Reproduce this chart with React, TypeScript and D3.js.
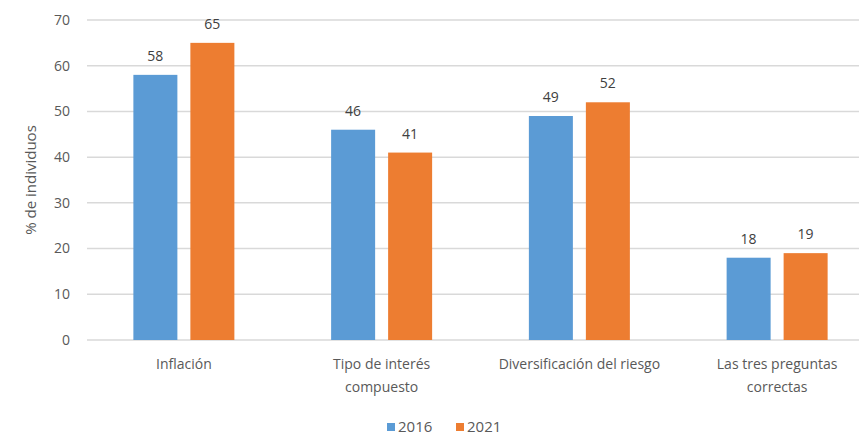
import React, { useEffect, useRef } from 'react';
import * as d3 from 'd3';

const categories = [
  ['Inflación'],
  ['Tipo de interés', 'compuesto'],
  ['Diversificación del riesgo'],
  ['Las tres preguntas', 'correctas'],
];
const seriesNames = ['2016', '2021'];
const values2016 = [58, 46, 49, 18];
const values2021 = [65, 41, 52, 19];
const yTicks = [0, 10, 20, 30, 40, 50, 60, 70];
const colors = ['#5B9BD5', '#ED7D31'];

const App = () => {
  const svgRef = useRef<SVGSVGElement>(null);

  useEffect(() => {
    const W = 859;
    const H = 437;
    const svg = d3.select(svgRef.current).attr('width', W).attr('height', H);
    svg.selectAll('*').remove();

    const font = 'Open Sans, sans-serif';
    const textColor = '#595959';

    const x0 = d3.scaleBand<number>()
      .domain(d3.range(categories.length))
      .range([85, 876])
      .padding(0);
    const groupW = 101;
    const x1 = d3.scaleBand<number>()
      .domain([0, 1])
      .range([0, groupW])
      .paddingInner(0.228);
    const y = d3.scaleLinear().domain([0, 70]).range([340, 20]);

    // gridlines
    svg.append('g')
      .selectAll('line')
      .data(yTicks)
      .join('line')
      .attr('x1', 87)
      .attr('x2', W)
      .attr('y1', d => y(d))
      .attr('y2', d => y(d))
      .attr('stroke', '#D9D9D9')
      .attr('stroke-width', 1.5);

    // y tick labels
    svg.append('g')
      .selectAll('text')
      .data(yTicks)
      .join('text')
      .attr('x', 70)
      .attr('y', d => y(d))
      .attr('dy', '0.35em')
      .attr('text-anchor', 'end')
      .attr('font-family', font)
      .attr('font-size', 14)
      .attr('fill', textColor)
      .text(d => d);

    // y title
    svg.append('text')
      .attr('transform', `translate(36,${y(35)}) rotate(-90)`)
      .attr('text-anchor', 'middle')
      .attr('font-family', font)
      .attr('font-size', 15)
      .attr('fill', textColor)
      .text('% de individuos');

    const barX = (i: number, s: number) => x0(i)! + (x0.bandwidth() - groupW) / 2 + x1(s)!;

    const series = [values2016, values2021];
    series.forEach((vals, s) => {
      const g = svg.append('g');
      g.selectAll('rect')
        .data(vals)
        .join('rect')
        .attr('x', (d, i) => barX(i, s))
        .attr('y', d => y(d))
        .attr('width', x1.bandwidth())
        .attr('height', d => y(0) - y(d))
        .attr('fill', colors[s]);
      g.selectAll('text')
        .data(vals)
        .join('text')
        .attr('x', (d, i) => barX(i, s) + x1.bandwidth() / 2)
        .attr('y', d => y(d) - 14)
        .attr('text-anchor', 'middle')
        .attr('font-family', font)
        .attr('font-size', 14)
        .attr('fill', '#404040')
        .text(d => d);
    });

    // category labels
    const cat = svg.append('g')
      .selectAll('text')
      .data(categories)
      .join('text')
      .attr('x', (d, i) => x0(i)! + x0.bandwidth() / 2)
      .attr('y', 369)
      .attr('text-anchor', 'middle')
      .attr('font-family', font)
      .attr('font-size', 14)
      .attr('fill', textColor);
    cat.selectAll('tspan')
      .data(d => d)
      .join('tspan')
      .attr('x', function () {
        return (this as SVGTSpanElement).parentElement!.getAttribute('x');
      })
      .attr('dy', (d, i) => (i === 0 ? 0 : 23))
      .text(d => d);

    // legend
    const legendX = [387, 456];
    const legend = svg.append('g')
      .selectAll('g')
      .data(seriesNames)
      .join('g')
      .attr('transform', (d, i) => `translate(${legendX[i]},423)`);
    legend.append('rect')
      .attr('width', 8)
      .attr('height', 8)
      .attr('fill', (d, i) => colors[i]);
    legend.append('text')
      .attr('x', 11)
      .attr('y', 9)
      .attr('font-family', font)
      .attr('font-size', 15)
      .attr('fill', textColor)
      .text(d => d);
  }, []);

  return (
    <div style={{ position: 'absolute', left: 0, top: 0 }}>
      <svg ref={svgRef} style={{ display: 'block' }}></svg>
    </div>
  );
};

export default App;
